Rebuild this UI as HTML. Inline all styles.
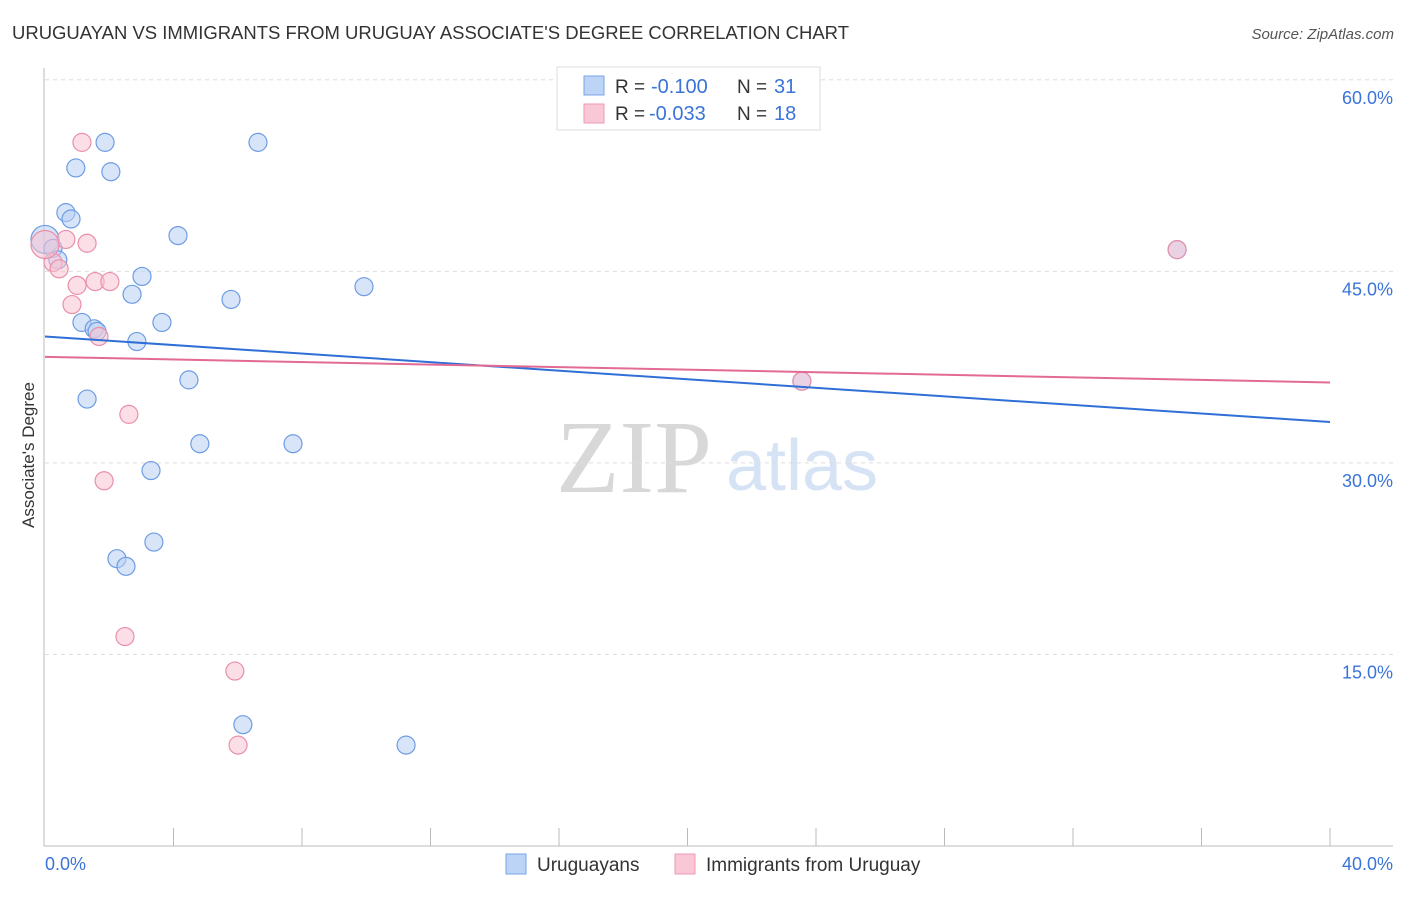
<!DOCTYPE html>
<html><head><meta charset="utf-8"><style>
body{margin:0;background:#fff;font-family:"Liberation Sans",sans-serif}
svg text{font-family:"Liberation Sans",sans-serif}
</style></head><body>
<svg width="1406" height="892" id="chart">
<text x="12" y="39" font-size="18.5" fill="#333" textLength="837" lengthAdjust="spacingAndGlyphs">URUGUAYAN VS IMMIGRANTS FROM URUGUAY ASSOCIATE'S DEGREE CORRELATION CHART</text>
<text x="1394" y="39" font-size="15" fill="#555" font-style="italic" text-anchor="end">Source: ZipAtlas.com</text>
<text x="34" y="455" font-size="17" fill="#333" text-anchor="middle" transform="rotate(-90 34 455)">Associate's Degree</text>
<g><text x="634" y="492" font-size="104" fill="#d8d8d8" style="font-family:'Liberation Serif',serif" text-anchor="middle">ZIP</text><text x="802" y="490" font-size="72" fill="#d6e3f5" text-anchor="middle">atlas</text></g>
<g id="grid"></g><g id="axes"></g><g id="marks"></g>
<g>
<rect x="557" y="67" width="263" height="63" fill="#fff" stroke="#ddd"/>
<rect x="584" y="76" width="20" height="19" fill="#bcd4f6" stroke="#7aa6e6"/>
<rect x="584" y="104" width="20" height="19" fill="#f9c8d6" stroke="#ec9ab2"/>
<text x="615" y="93" font-size="19" fill="#333">R =</text>
<text x="651" y="93" font-size="20" fill="#3a74d8">-0.100</text>
<text x="737" y="93" font-size="19" fill="#333">N =</text>
<text x="774" y="93" font-size="20" fill="#3a74d8">31</text>
<text x="615" y="120" font-size="19" fill="#333">R =</text>
<text x="649" y="120" font-size="20" fill="#3a74d8">-0.033</text>
<text x="737" y="120" font-size="19" fill="#333">N =</text>
<text x="774" y="120" font-size="20" fill="#3a74d8">18</text>
</g>
<g>
<rect x="506" y="854" width="20" height="20" fill="#bcd4f6" stroke="#7aa6e6"/>
<text x="537" y="871" font-size="19" fill="#333">Uruguayans</text>
<rect x="675" y="854" width="20" height="20" fill="#f9c8d6" stroke="#ec9ab2"/>
<text x="706" y="871" font-size="19" fill="#333">Immigrants from Uruguay</text>
</g>
</svg>
<script>
const blueX=[1.87,0.96,2.05,6.63,0.65,0.81,0.0,0.25,0.40,4.14,3.02,2.71,5.79,9.93,1.15,1.53,1.62,3.64,2.86,4.48,1.31,4.82,7.72,3.30,3.39,2.24,2.52,6.16,11.24,23.56,35.24];
const blueY=[55.1,53.1,52.8,55.1,49.6,49.1,47.5,46.8,45.9,47.8,44.6,43.2,42.8,43.8,41.0,40.5,40.3,41.0,39.5,36.5,35.0,31.5,31.5,29.4,23.8,22.5,21.9,9.5,7.9,36.4,46.7];
const pinkX=[1.15,1.31,0.65,0.25,0.44,1.0,1.56,2.02,0.84,1.68,2.61,1.84,2.49,5.91,6.01,23.56,35.24,0];
const pinkY=[55.1,47.2,47.5,45.7,45.2,43.9,44.2,44.2,42.4,39.9,33.8,28.6,16.4,13.7,7.9,36.4,46.7,47.1];
const blueTrend=[39.9,33.2];
const pinkTrend=[38.3,36.3];
const yTicks=[15,30,45,60];
const xTickLabels=["0.0%","40.0%"];
const NS="http://www.w3.org/2000/svg";
const sx=v=>45+v*32.125, sy=v=>846-v*12.77;
function mk(t,a,p){const e=document.createElementNS(NS,t);for(const k in a)e.setAttribute(k,a[k]);p.appendChild(e);return e;}
const grid=document.getElementById('grid'),axes=document.getElementById('axes'),marks=document.getElementById('marks');
yTicks.forEach(v=>{
 const l=mk('line',{x1:45,x2:1393,y1:sy(v),y2:sy(v),stroke:'#ddd','stroke-dasharray':'4,4'},grid);
 
 
 const t=mk('text',{x:1393,y:sy(v)+24,'font-size':18,fill:'#3a74d8','text-anchor':'end'},axes);
 t.textContent=v.toFixed(1)+'%';
 
 
});
mk('line',{x1:44,x2:44,y1:68,y2:846,stroke:'#bbb'},axes);
mk('line',{x1:44,x2:1393,y1:846,y2:846,stroke:'#bbb'},axes);
for(let i=1;i<=10;i++){const tk=mk('line',{x1:sx(i*4),x2:sx(i*4),y1:828,y2:846,stroke:'#bbb'},axes);
 
 }
const x0=mk('text',{x:45,y:870,'font-size':18,fill:'#3a74d8'},axes);x0.textContent=xTickLabels[0];


const x1=mk('text',{x:1393,y:870,'font-size':18,fill:'#3a74d8','text-anchor':'end'},axes);x1.textContent=xTickLabels[1];


function pts(X,Y,fill,stroke,name){X.forEach((x,i)=>{
 const big=(x===0);
 const c=mk('circle',{cx:sx(x),cy:sy(Y[i]),r:big?14:9,fill:fill,'fill-opacity':0.55,stroke:stroke,'stroke-width':1.2},marks);
 
 
});}
pts(blueX,blueY,'#b8d0f4','#6d9ce3','point-uruguayan');
pts(pinkX,pinkY,'#f8c2d2','#e98fab','point-immigrant');
const bl=mk('line',{x1:sx(0),y1:sy(blueTrend[0]),x2:sx(40),y2:sy(blueTrend[1]),stroke:'#2f6fd6','stroke-width':2},marks);


const pl=mk('line',{x1:sx(0),y1:sy(pinkTrend[0]),x2:sx(40),y2:sy(pinkTrend[1]),stroke:'#e36a93','stroke-width':2},marks);


</script>
</body></html>
